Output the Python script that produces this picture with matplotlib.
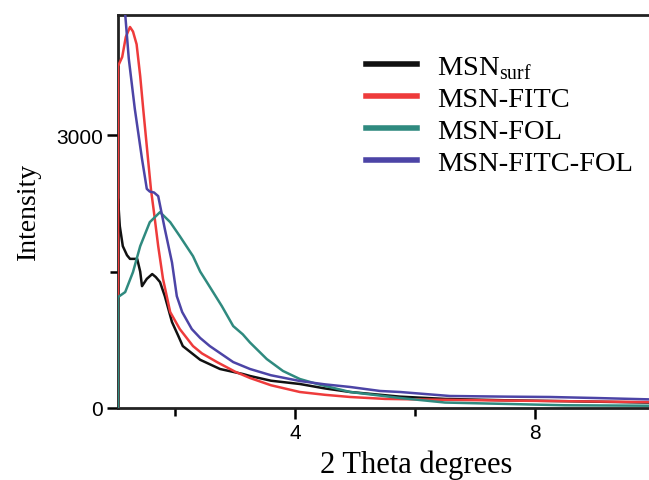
import matplotlib.pyplot as plt
from matplotlib.ticker import FixedLocator
from matplotlib.lines import Line2D

plt.rcParams['mathtext.fontset'] = 'custom'
plt.rcParams['mathtext.rm'] = 'Liberation Serif'

labels = ['MSN$_{\\mathrm{surf}}$', 'MSN-FITC', 'MSN-FOL', 'MSN-FITC-FOL']
colors = ['#111111', '#ee3b3b', '#2f8a7f', '#4c44a6']

x_surf = [1.05, 1.051, 1.08, 1.13, 1.20, 1.25, 1.37, 1.42, 1.45, 1.53, 1.62, 1.68, 1.75, 1.83,
          1.95, 2.05, 2.13, 2.42, 2.75, 3.13, 3.25, 3.6, 4.08, 4.5, 4.92, 5.75, 6.5, 7.5, 8.5, 9.9]
y_surf = [0, 2300, 2000, 1780, 1680, 1640, 1640, 1500, 1340, 1420, 1473, 1440, 1385, 1231,
          945, 800, 681, 530, 429, 374, 352, 300, 264, 215, 176, 125, 100, 85, 75, 60]

x_fitc = [1.05, 1.051, 1.12, 1.18, 1.25, 1.30, 1.36, 1.42, 1.47, 1.55, 1.60, 1.65, 1.72, 1.80,
          1.92, 2.08, 2.30, 2.45, 2.70, 3.0, 3.25, 3.6, 4.08, 4.5, 4.92, 5.5, 6.5, 7.5, 8.5, 9.9]
y_fitc = [0, 3760, 3860, 4080, 4190, 4140, 4000, 3650, 3290, 2740, 2400, 2150, 1780, 1420,
          1055, 868, 681, 600, 505, 400, 330, 250, 176, 145, 121, 100, 90, 82, 75, 65]

x_fol = [1.05, 1.051, 1.17, 1.30, 1.42, 1.58, 1.75, 1.92, 2.08, 2.30, 2.42, 2.53, 2.78, 2.97,
         3.13, 3.25, 3.53, 3.80, 4.08, 4.37, 4.92, 5.75, 6.5, 7.5, 8.5, 9.9]
y_fol = [0, 1220, 1275, 1495, 1780, 2044, 2154, 2044, 1890, 1670, 1500, 1385, 1121, 901,
         810, 720, 538, 407, 319, 264, 176, 110, 60, 45, 30, 25]

x_ff = [1.05, 1.17, 1.23, 1.33, 1.45, 1.53, 1.58, 1.65, 1.72, 1.83, 1.95, 2.03, 2.12, 2.28,
        2.42, 2.58, 2.97, 3.25, 3.6, 4.08, 4.5, 4.92, 5.42, 5.75, 6.58, 7.5, 8.25, 9.0, 9.9]
y_ff = [4800, 4330, 3840, 3290, 2740, 2410, 2380, 2370, 2330, 1970, 1600, 1230, 1055, 868,
        770, 681, 505, 429, 360, 297, 260, 231, 187, 176, 132, 125, 121, 110, 95]

series = [(x_surf, y_surf), (x_fitc, y_fitc), (x_fol, y_fol), (x_ff, y_ff)]

fig = plt.figure(figsize=(6.49, 4.81), dpi=100)
ax = fig.add_axes([118 / 649, 72 / 481, 1 - 118 / 649, 393 / 481])

for (xs, ys), c in zip(series, colors):
    ax.plot(xs, ys, color=c, lw=1.8, zorder=3)

ax.set_xlim(1.05, 9.9)
ax.set_ylim(0, 4322)
ax.spines['right'].set_visible(False)
for s in ['left', 'bottom', 'top']:
    ax.spines[s].set_linewidth(2)
    ax.spines[s].set_color('#222222')

ax.xaxis.set_major_locator(FixedLocator([4, 8]))
ax.xaxis.set_minor_locator(FixedLocator([2, 6]))
ax.yaxis.set_major_locator(FixedLocator([0, 3000]))
ax.yaxis.set_minor_locator(FixedLocator([1500]))
ax.tick_params(which='major', length=8, width=1.8, labelsize=15, pad=3)
ax.tick_params(which='minor', length=6, width=1.8)
ax.tick_params(axis='x', which='both', top=False)
for lab in ax.get_xticklabels() + ax.get_yticklabels():
    lab.set_fontfamily('Liberation Sans')

fig.text(28 / 649, 1 - 211 / 481, 'Intensity', rotation=90, ha='center', va='center',
         fontsize=20, family='Liberation Serif')
fig.text(416 / 649, 1 - 465 / 481, '2 Theta degrees', ha='center', va='center',
         fontsize=22, family='Liberation Serif')

handles = [Line2D([], [], color=c, lw=4) for c in colors]
ax.legend(handles, labels, loc='upper left', bbox_to_anchor=(366 / 649, 1 - 55 / 481),
          bbox_transform=fig.transFigure, frameon=False, handlelength=1.8,
          handletextpad=0.7, labelspacing=0.2, borderpad=0, borderaxespad=0,
          prop={'family': 'Liberation Serif', 'size': 20.5})

fig.savefig('out.png', dpi=100)
